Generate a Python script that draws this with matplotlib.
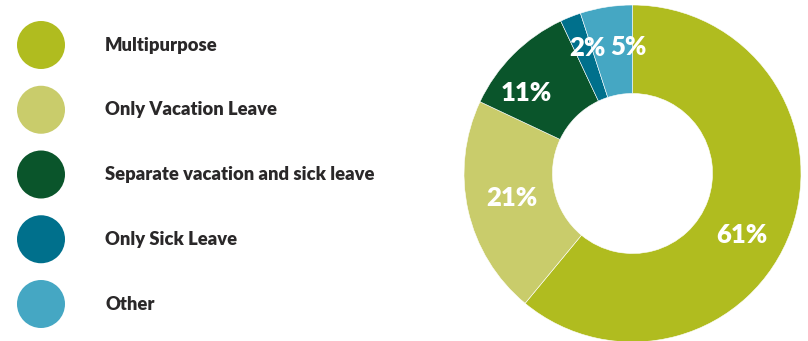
import numpy as np
import matplotlib
matplotlib.use("Agg")
import matplotlib.pyplot as plt
from matplotlib.patches import Circle

# Leave policy types (share of respondents, %)
categories = ["Multipurpose", "Only Vacation Leave", "Separate vacation and sick leave",
              "Only Sick Leave", "Other"]
shares = [61, 21, 11, 2, 5]
colors = ["#B0BC1F", "#C9CC6B", "#0A552B", "#00708C", "#45A7C3"]

# small angular nudges (degrees) for the percentage labels
label_shift = [-9.5, -1.0, 8.0, -1.6, -7.0]
label_radius = [0.745, 0.73, 0.79, 0.79, 0.75]

W, H = 808, 341
fig = plt.figure(figsize=(W / 100, H / 100), dpi=100)
fig.patch.set_facecolor("white")

FONT = "Lato"
TEXT_COLOR = "#2A2829"

# ---- donut ----
cx, cy, R = 632.5, 173.5, 168.5
ax = fig.add_axes([(cx - R) / W, (H - cy - R) / H, 2 * R / W, 2 * R / H])
wedges, _ = ax.pie(shares, colors=colors, startangle=90, counterclock=False,
                   radius=1.0, wedgeprops=dict(width=0.525, edgecolor="white", linewidth=0.4))
ax.set_xlim(-1, 1)
ax.set_ylim(-1, 1)
ax.set_aspect("equal")
ax.axis("off")

for w, val, dth, r in zip(wedges, shares, label_shift, label_radius):
    mid = np.deg2rad((w.theta1 + w.theta2) / 2 + dth)
    ax.text(r * np.cos(mid), r * np.sin(mid), f"{val}%", ha="center", va="center",
            color="white", fontsize=18.5, fontweight="heavy", family=FONT)

# ---- legend ----
lax = fig.add_axes([0, 0, 1, 1])
lax.set_xlim(0, W)
lax.set_ylim(H, 0)
lax.axis("off")
lax.set_zorder(-1)
for i, (name, col) in enumerate(zip(categories, colors)):
    y = 45 + 64.75 * i
    lax.add_patch(Circle((41, y), 24, facecolor=col, edgecolor="none"))
    lax.text(105, y, name, ha="left", va="center", fontsize=13.2,
             fontweight="heavy", family=FONT, color=TEXT_COLOR)

fig.savefig("out.png", dpi=100, facecolor="white")
